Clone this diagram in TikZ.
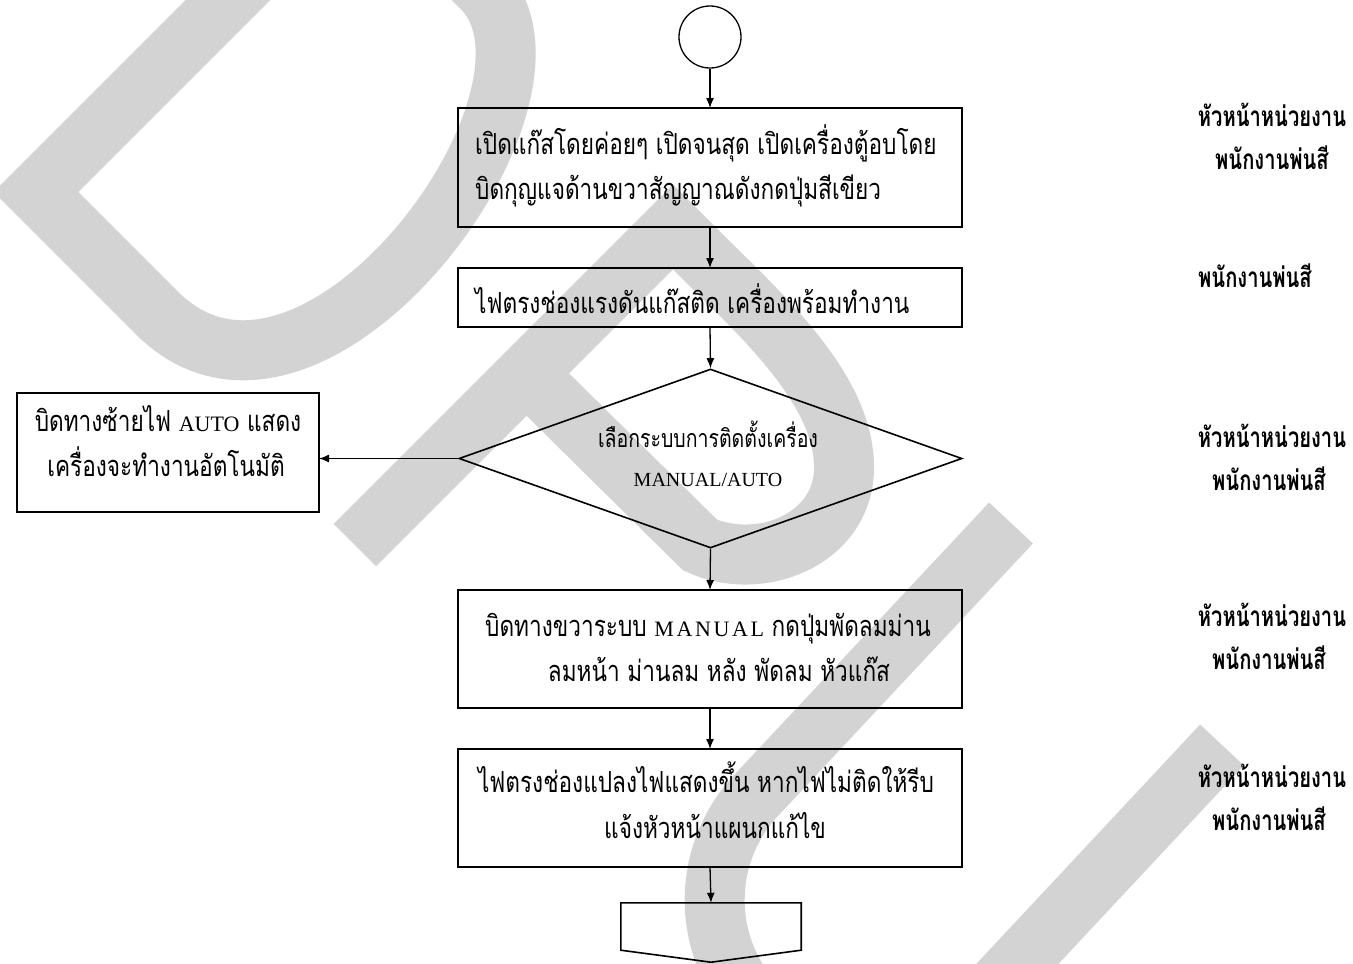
\documentclass[tikz,border=0pt]{standalone}
\usepackage{fontspec}
\usetikzlibrary{shapes.geometric,arrows.meta,calc}
\newfontfamily\thaifont[Script=Thai,FakeStretch=0.78]{Loma}
\newfontfamily\thairole[Script=Thai,FakeStretch=0.72]{Loma}
\newfontfamily\latinfont{Liberation Serif}
\newfontfamily\latinwide[LetterSpace=12]{Liberation Serif}
\newcommand{\lat}[1]{{\latinfont\fontsize{22}{26}\selectfont #1}}
\newcommand{\latw}[1]{{\latinwide\fontsize{22}{26}\selectfont #1}}
\newcommand{\latsmall}[1]{{\latinfont\fontsize{20}{24}\selectfont #1}}
\definecolor{wmgray}{RGB}{211,211,211}

\begin{document}
\begin{tikzpicture}[x=1pt,y=-1pt,
  wm/.style={draw=wmgray,line width=60pt,line join=miter,line cap=butt},
  box/.style={draw,line width=1.6pt,minimum width=504pt,inner sep=0pt,outer sep=0pt},
  arr/.style={line width=1.3pt,-{Latex[length=10pt,width=8pt]}},
  txt/.style={inner sep=0pt,font=\thaifont\fontsize{29}{34}\selectfont},
  smalltxt/.style={inner sep=0pt,font=\thaifont\fontsize{25}{30}\selectfont},
  role/.style={inner sep=0pt,font=\thairole\bfseries\fontsize{28}{34}\selectfont}]
\useasboundingbox (0,0) rectangle (1353,964);

% background lettering
\begin{scope}
  \clip (0,0) rectangle (1353,964);
  \draw[wm] (361,-133) -- (36,192) -- (157,313)
    .. controls (312.5,468.5) and (588,94) .. (482,-12) -- (440,-54);
  \draw[wm] (355,545) -- (673,227) -- (700,254)
    .. controls (760,314) and (846,390) .. (844,470)
    .. controls (842,540) and (760,572) .. (700,545) -- (525,372);
  \draw[wm] (1011,523) -- (756,795.5)
    .. controls (729.5,823.8) and (714.7,861.2) .. (714.7,900)
    .. controls (714.7,984.5) and (783.2,1053) .. (867.7,1053)
    .. controls (910,1053) and (950.5,1035.4) .. (979.4,1004.5) -- (1222,745);
\end{scope}

% flow chart shapes
\node[circle,draw,line width=1.3pt,minimum size=62pt,inner sep=0pt] (start) at (710,37) {};
\node[box,minimum height=119pt] (b1) at (710,167.5) {};
\node[box,minimum height=59pt] (b2) at (710,297.5) {};
\node[diamond,draw,line width=1.6pt,minimum width=503pt,minimum height=179pt,inner sep=0pt] (dec) at (710.5,458.5) {};
\node[box,minimum width=302pt,minimum height=119pt] (b3) at (168,452.5) {};
\node[box,minimum height=118pt] (b4) at (710,649) {};
\node[box,minimum height=118pt] (b5) at (710,808) {};
\node[minimum width=180pt,minimum height=47pt,inner sep=0pt] (fin) at (711,926.5) {};
\draw[line width=1.6pt] (fin.north west) -- (fin.north east) -- (fin.south east)
  -- ($(fin.south)+(0,12)$) -- (fin.south west) -- cycle;

% connectors
\draw[arr] (start.south) -- (b1.north);
\draw[arr] (b1.south) -- (b2.north);
\draw[arr] (b2.south) -- (dec.north);
\draw[arr] (dec.west) -- (dec.west -| b3.east);
\draw[arr] (dec.south) -- (b4.north);
\draw[arr] (b4.south) -- (b5.north);
\draw[arr] (b5.south) -- (fin.north);

% step texts
\node[txt,anchor=base west] (t1a) at (475,154) {เปิดแก๊สโดยค่อยๆ เปิดจนสุด เปิดเครื่องตู้อบโดย};
\node[txt,anchor=base west] (t1b) at (475,199) {บิดกุญแจด้านขวาสัญญาณดังกดปุ่มสีเขียว};
\node[txt,anchor=base west] (t2) at (475,313) {ไฟตรงช่องแรงดันแก๊สติด เครื่องพร้อมทำงาน};
\node[smalltxt,anchor=base] (td1) at (708,447) {เลือกระบบการติดตั้งเครื่อง};
\node[inner sep=0pt,anchor=base] (td2) at (708,486) {\latsmall{MANUAL/AUTO}};
\node[txt,anchor=base] (t3a) at (168,431) {บิดทางซ้ายไฟ \lat{AUTO} แสดง};
\node[txt,anchor=base] (t3b) at (166,476) {เครื่องจะทำงานอัตโนมัติ};
\node[txt,anchor=base] (t4a) at (708,636) {บิดทางขวาระบบ \latw{MANUAL} กดปุ่มพัดลมม่าน};
\node[txt,anchor=base] (t4b) at (719,681) {ลมหน้า ม่านลม หลัง พัดลม หัวแก๊ส};
\node[txt,anchor=base] (t5a) at (706,792) {ไฟตรงช่องแปลงไฟแสดงขึ้น หากไฟไม่ติดให้รีบ};
\node[txt,anchor=base] (t5b) at (715,838) {แจ้งหัวหน้าแผนกแก้ไข};

% responsible persons
\node[role,anchor=base] (r1a) at (1272,126) {หัวหน้าหน่วยงาน};
\node[role,anchor=base] (r1b) at (1272,169) {พนักงานพ่นสี};
\node[role,anchor=base west] (r2) at (1198,287) {พนักงานพ่นสี};
\node[role,anchor=base] (r3a) at (1272,447) {หัวหน้าหน่วยงาน};
\node[role,anchor=base] (r3b) at (1269,490) {พนักงานพ่นสี};
\node[role,anchor=base] (r4a) at (1272,626) {หัวหน้าหน่วยงาน};
\node[role,anchor=base] (r4b) at (1269,669) {พนักงานพ่นสี};
\node[role,anchor=base] (r5a) at (1272,787) {หัวหน้าหน่วยงาน};
\node[role,anchor=base] (r5b) at (1269,830) {พนักงานพ่นสี};
\end{tikzpicture}
\end{document}
